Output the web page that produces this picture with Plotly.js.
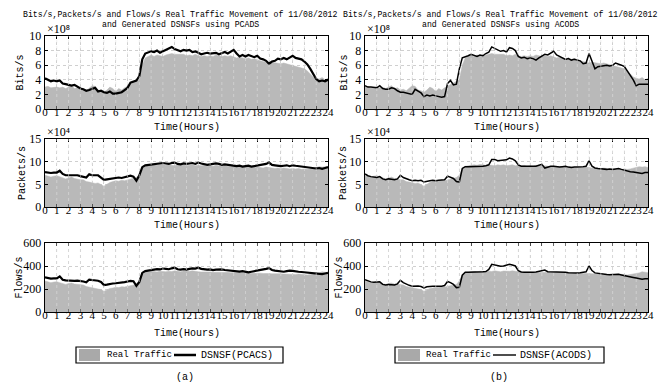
<!DOCTYPE html>
<html><head><meta charset="utf-8">
<script src="https://cdn.plot.ly/plotly-3.0.1.min.js"></script>
<style>body{margin:0;background:#fff}#c{width:662px;height:383px}</style>
</head><body><div id="c"></div>
<script>
// hours sampled every 0.25 h
const hours = Array.from({length: 97}, (_, i) => i / 4);
const hourTicks = Array.from({length: 25}, (_, i) => i);

// Real traffic (shared by (a) and (b)) — Bits/s (x10^8)
const realBits = [3.0,3.1,2.9,3.0,3.0, 2.9,3.0,2.8,3.0, 3.2,2.8,2.9,2.6, 2.7,2.5,2.8,3.2, 3.1,2.6,2.5,2.3,
  2.6,3.0,2.8,2.4, 2.8,2.6,2.9,3.1, 3.3,3.6,3.8,4.0, 6.0,7.0,7.2,7.4, 7.2,7.4,7.3,7.2, 7.4,7.5,7.6,7.5,
  7.5,7.4,7.5,7.3, 7.4,7.3,7.5,7.3, 7.2,7.3,7.2,7.3, 7.2,7.4,7.3,7.2, 7.3,7.2,7.3,7.2, 7.0,7.1,7.0,6.9,
  7.0,6.8,6.9,6.7, 6.6,6.5,6.4,6.3, 6.4,6.3,6.3,6.2, 6.3,6.2,6.1,6.0, 5.9,5.8,5.7,5.5, 5.2,4.8,4.4,4.2, 4.1,4.3,4.0,4.2];
const pcacsBits = [4.2,4.0,3.8,3.9,3.8, 3.9,3.5,3.4,3.3, 3.2,3.3,3.0,2.8, 2.7,2.5,2.6,2.7, 2.9,2.4,2.5,2.3,
  2.2,2.4,2.1,2.1, 2.2,2.3,2.6,2.9, 3.6,3.8,3.9,4.5, 6.8,7.6,7.8,7.9, 7.8,8.0,7.7,7.9, 8.0,8.2,8.5,8.2,
  8.0,7.9,8.1,8.0, 8.1,7.8,7.9,7.7, 7.5,7.6,7.7,7.6, 7.6,7.7,7.5,7.7, 7.8,7.6,7.9,8.1, 7.6,7.2,7.4,7.2,
  7.4,7.2,7.1,7.3, 6.9,6.8,6.6,6.2, 6.5,6.6,6.9,6.8, 7.0,6.8,7.0,7.3, 7.0,6.9,6.8,6.5, 6.1,5.5,4.8,4.1, 3.8,3.9,3.8,4.0];
const acodsBits = [3.2,3.0,3.0,2.9,2.9, 3.2,2.8,2.7,2.7, 2.9,2.8,2.5,2.3, 2.3,2.2,2.1,2.0, 2.7,2.4,2.2,1.7,
  1.9,1.8,1.9,1.8, 1.7,1.6,1.7,3.5, 3.9,3.3,3.4,5.5, 7.0,7.1,7.3,7.5, 7.3,7.2,7.4,7.3, 7.6,7.8,8.5,8.3,
  8.0,7.9,8.0,7.8, 8.4,8.3,8.0,7.2, 7.0,7.1,6.9,7.0, 6.9,6.7,7.0,7.3, 7.5,7.4,7.6,7.9, 7.4,7.2,7.0,6.8,
  6.9,6.7,6.8,6.7, 6.6,6.2,6.3,7.6, 6.5,5.5,5.8,5.9, 6.0,6.0,5.9,6.0, 6.3,6.2,6.0,5.8, 5.2,4.5,4.0,3.2, 3.4,3.4,3.4,3.4];

// Packets/s (x10^4)
const realPackets = [7.0,6.8,6.6,6.8,6.9, 6.7,6.4,6.2,6.4, 6.6,6.3,6.1,6.0, 6.0,5.6,5.5,5.4, 5.2,5.3,5.0,4.6,
  5.0,5.4,5.6,5.8, 5.7,5.9,5.8,6.0, 6.1,6.3,6.5,7.0, 8.5,9.0,9.1,9.2, 9.3,9.2,9.4,9.3, 9.2,9.3,9.2,9.1,
  9.3,9.2,9.3,9.1, 9.2,9.3,9.1,9.2, 9.1,9.2,9.0,9.1, 9.0,9.2,9.1,9.0, 9.1,9.0,8.9,9.0, 8.9,8.8,9.0,8.9,
  8.8,8.9,8.7,8.8, 8.7,8.6,8.8,8.7, 8.6,8.5,8.6,8.5, 8.6,8.5,8.4,8.5, 8.4,8.5,8.3,8.4, 8.3,8.4,8.6,8.7, 8.9,8.8,8.9,8.7];
const pcacsPackets = [7.7,7.6,7.5,7.6,7.6, 8.0,7.3,7.0,7.0, 7.1,7.0,7.0,6.8, 6.7,6.5,7.2,7.0, 7.0,7.0,6.5,6.0,
  6.1,6.2,6.3,6.5, 6.5,6.4,6.6,6.8, 6.9,6.7,5.8,7.0, 8.8,9.2,9.3,9.3, 9.4,9.5,9.6,9.7, 9.6,9.5,9.7,9.8,
  9.5,9.4,9.6,9.5, 9.6,9.7,9.5,9.8, 9.6,9.4,9.3,9.4, 9.5,9.6,9.5,9.3, 9.4,9.3,9.2,9.2, 9.0,9.1,8.9,9.0,
  9.1,8.9,9.0,9.2, 9.3,9.4,9.5,9.8, 9.3,9.2,9.1,9.0, 9.1,9.2,9.0,9.2, 9.1,9.0,8.9,8.9, 8.8,8.7,8.6,8.5, 8.6,8.4,8.6,8.8];
const acodsPackets = [7.3,6.9,6.7,6.6,6.5, 6.7,6.2,6.0,6.2, 6.1,6.0,6.2,7.0, 6.5,6.2,6.0,5.8, 5.9,5.8,5.9,5.5,
  5.7,5.8,5.9,5.8, 5.9,6.0,6.0,6.8, 6.6,6.3,5.6,5.5, 8.5,8.9,8.9,8.9, 9.0,8.9,9.0,9.0, 9.1,9.3,10.5,10.5,
  10.2,10.3,10.3,10.4, 10.8,10.6,10.2,9.3, 9.0,9.0,8.9,9.0, 8.9,9.0,9.2,9.4, 8.6,8.8,9.0,9.0, 8.9,8.8,8.9,9.0,
  8.8,8.7,8.8,8.8, 8.8,8.9,9.0,10.2, 9.0,8.6,8.5,8.4, 8.4,8.3,8.4,8.3, 8.4,8.5,8.3,8.1, 8.0,7.8,7.7,7.6, 7.5,7.4,7.6,7.6];

// Flows/s
const realFlows = [270,262,255,260,263, 255,248,240,248, 252,243,240,238, 235,222,215,208, 205,200,195,180,
  192,205,208,215, 212,220,218,225, 228,235,240,270, 325,345,348,350, 352,348,355,352, 350,355,352,358,
  355,350,356,352, 354,358,352,350, 348,350,346,348, 345,348,346,344, 347,345,342,344, 340,343,341,338,
  340,338,336,340, 338,335,337,334, 332,334,330,333, 330,328,331,329, 327,330,326,325, 322,326,330,332, 340,350,345,342];
const pcacsFlows = [301,295,290,292,292, 310,280,275,272, 275,270,272,270, 265,258,282,278, 278,272,262,235,
  238,245,248,250, 252,255,260,265, 270,268,228,262, 340,355,360,365, 368,372,370,378, 375,372,380,385,
  372,368,372,368, 375,380,378,385, 375,370,368,370, 365,368,372,370, 365,362,358,355, 350,352,355,350,
  345,350,355,358, 362,365,375,382, 365,360,358,355, 350,355,360,358, 352,350,348,345, 342,338,335,330, 332,330,335,340];
const acodsFlows = [281,270,262,258,258, 262,240,235,240, 238,235,245,275, 255,242,232,225, 228,226,222,210,
  220,225,224,225, 222,225,230,265, 255,240,212,215, 320,345,345,345, 348,350,348,350, 352,370,415,410,
  400,398,400,405, 415,408,400,360, 348,345,344,345, 345,348,352,355, 365,350,350,350, 348,345,348,346,
  342,340,342,340, 342,345,350,400, 360,340,335,330, 328,326,325,325, 330,328,322,318, 310,305,300,295, 288,285,290,290];

const yTitles = ['Bits/s', 'Packets/s', 'Flows/s'];
const yTicks = [[0,2,4,6,8,10],[0,5,10,15],[0,200,400,600]];
const yRanges = [[0,10],[0,15],[0,600]];
const exponents = ['\u00d710\u2078', '\u00d710\u2074', ''];
const legendNames = ['DSNSF(PCACS)', 'DSNSF(ACODS)'];
const panelLabels = ['(a)', '(b)'];
const titleMethods = ['PCADS', 'ACODS'];

const W = 662, H = 383;
const px = v => v / W, py = v => 1 - v / H;
const colX = [[45, 328], [365, 648]];
const rowY = [[36, 109], [139, 207], [243, 312]];
const timeY = [127, 225, 333];
const yTitleX = [[20, 23, 19], [344, 344, 339]];

const reals = [realBits, realPackets, realFlows];
const models = [[pcacsBits, pcacsPackets, pcacsFlows], [acodsBits, acodsPackets, acodsFlows]];
const lineW = [2.2, 1.5];

const serif = '"Liberation Serif", "Times New Roman", serif';
const mono = '"Liberation Mono", "Courier New", monospace';

const data = [], layout = {
  width: W, height: H, margin: {l: 0, r: 0, t: 0, b: 0},
  paper_bgcolor: '#fff', plot_bgcolor: '#fff', showlegend: false,
  annotations: [], shapes: []
};

let k = 0;
for (let c = 0; c < 2; c++) {
  for (let r = 0; r < 3; r++) {
    k++;
    const xa = 'x' + k, ya = 'y' + k;
    data.push({x: hours, y: reals[r], xaxis: xa, yaxis: ya, type: 'scatter', mode: 'lines',
      fill: 'tozeroy', fillcolor: '#b9b9b9', line: {color: '#b9b9b9', width: 0.5}, hoverinfo: 'skip'});
    data.push({x: hours, y: models[c][r], xaxis: xa, yaxis: ya, type: 'scatter', mode: 'lines',
      line: {color: '#000', width: lineW[c]}, hoverinfo: 'skip'});
    const axCommon = {showline: true, mirror: 'ticks', linecolor: '#000', linewidth: 1.3,
      ticks: 'inside', ticklen: 3, tickcolor: '#000', showgrid: true, gridcolor: '#cfcfcf',
      griddash: 'dot', gridwidth: 1, zeroline: false, fixedrange: true,
      tickfont: {family: serif, size: 12, color: '#000'}};
    layout['xaxis' + (k === 1 ? '' : k)] = Object.assign({}, axCommon, {
      domain: [px(colX[c][0]), px(colX[c][1])], range: [0, 24], tickvals: hourTicks,
      ticktext: hourTicks.map(String), anchor: ya, tickangle: 0, ticklabelstandoff: -8,
      tickfont: {family: serif, size: 11, color: '#000'}});
    layout['yaxis' + (k === 1 ? '' : k)] = Object.assign({}, axCommon, {
      domain: [py(rowY[r][1]), py(rowY[r][0])], range: yRanges[r], tickvals: yTicks[r],
      anchor: xa, ticklabelstandoff: 0});
    // dotted grid drawn over the grey area
    hourTicks.slice(1, 24).forEach(h => layout.shapes.push({type: 'line', xref: xa, yref: ya,
      x0: h, x1: h, y0: yRanges[r][0], y1: yRanges[r][1], layer: 'above',
      line: {color: 'rgba(225,225,225,0.55)', width: 1, dash: 'dot'}}));
    layout.annotations.push({text: 'Time(Hours)', xref: 'paper', yref: 'paper',
      x: px((colX[c][0] + colX[c][1]) / 2), y: py(timeY[r]), xanchor: 'center', yanchor: 'middle',
      showarrow: false, font: {family: mono, size: 10, color: '#000'}});
    layout.annotations.push({text: yTitles[r], xref: 'paper', yref: 'paper', textangle: -90,
      x: px(yTitleX[c][r]), y: py((rowY[r][0] + rowY[r][1]) / 2), xanchor: 'center', yanchor: 'middle',
      showarrow: false, font: {family: mono, size: 10, color: '#000'}});
    if (exponents[r]) layout.annotations.push({text: exponents[r], xref: 'paper', yref: 'paper',
      x: px(colX[c][0]), y: py(rowY[r][0] - 7), xanchor: 'left', yanchor: 'middle', showarrow: false,
      font: {family: serif, size: 12, color: '#000'}});
  }
  // titles
  const tcx = c === 0 ? 180 : 500;
  layout.annotations.push({text: 'Bits/s,Packets/s and Flows/s Real Traffic Movement of 11/08/2012',
    xref: 'paper', yref: 'paper', x: px(tcx), y: py(15), xanchor: 'center', yanchor: 'middle',
    showarrow: false, font: {family: mono, size: 8.2, color: '#000'}});
  layout.annotations.push({text: 'and Generated DSNSFs using ' + titleMethods[c],
    xref: 'paper', yref: 'paper', x: px(tcx), y: py(25), xanchor: 'center', yanchor: 'middle',
    showarrow: false, font: {family: mono, size: 8.2, color: '#000'}});
}

// legends (drawn as boxes)
const legs = [
  {box: [76, 283], sw: [79, 100], txt1: 105, ln: [174, 196], txt2: 199, lw: 2.5, name: legendNames[0], lab: 185},
  {box: [395, 604], sw: [398, 420], txt1: 424, ln: [493, 516], txt2: 518, lw: 1.4, name: legendNames[1], lab: 499}
];
legs.forEach(L => {
  layout.shapes.push({type: 'rect', xref: 'paper', yref: 'paper', x0: px(L.box[0]), x1: px(L.box[1]),
    y0: py(363), y1: py(347), line: {color: '#000', width: 1.2}, fillcolor: '#fff'});
  layout.shapes.push({type: 'rect', xref: 'paper', yref: 'paper', x0: px(L.sw[0]), x1: px(L.sw[1]),
    y0: py(361), y1: py(349), line: {width: 0}, fillcolor: '#a9a9a9'});
  layout.shapes.push({type: 'line', xref: 'paper', yref: 'paper', x0: px(L.ln[0]), x1: px(L.ln[1]),
    y0: py(355), y1: py(355), line: {color: '#000', width: L.lw}});
  layout.annotations.push({text: 'Real Traffic', xref: 'paper', yref: 'paper', x: px(L.txt1), y: py(355),
    xanchor: 'left', yanchor: 'middle', showarrow: false, font: {family: mono, size: 9, color: '#000'}});
  layout.annotations.push({text: L.name, xref: 'paper', yref: 'paper', x: px(L.txt2), y: py(355),
    xanchor: 'left', yanchor: 'middle', showarrow: false, font: {family: mono, size: 10, color: '#000'}});
});
panelLabels.forEach((t, i) => layout.annotations.push({text: t, xref: 'paper', yref: 'paper',
  x: px(legs[i].lab), y: py(377), xanchor: 'center', yanchor: 'middle', showarrow: false,
  font: {family: mono, size: 10, color: '#000'}}));

Plotly.newPlot('c', data, layout, {staticPlot: true, displayModeBar: false});
</script></body></html>
